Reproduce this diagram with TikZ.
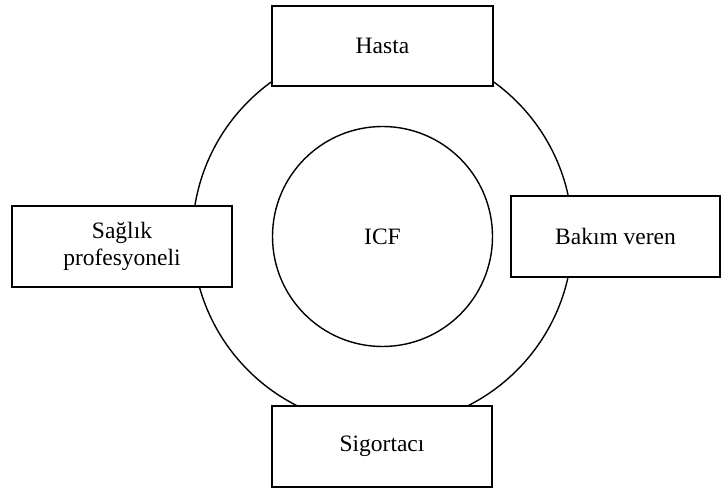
\documentclass[tikz,border=0pt]{standalone}
\usepackage{fontspec}
\setmainfont{Liberation Serif}
\begin{document}
\begin{tikzpicture}[x=1pt,y=-1pt,
  ring/.style={draw=black,line width=1.4pt},
  rolebox/.style={draw=black,fill=white,line width=1.4pt,rectangle,
    inner sep=0pt,align=center,font=\fontsize{23.5}{29}\selectfont},
  core/.style={circle,draw=black,line width=1.4pt,minimum size=220pt,
    inner sep=0pt,font=\fontsize{23.5}{29}\selectfont}]
  \useasboundingbox (0,0) rectangle (721,489);
  % outer ring of stakeholders
  \node[circle,ring,minimum size=380pt,inner sep=0pt] (outer) at (382.5,236) {};
  % ICF core
  \node[core] (icf) at (382.5,236.5) {ICF};
  % stakeholder boxes
  \node[rolebox,minimum width=221pt,minimum height=80pt] (hasta) at (382.5,46) {Hasta};
  \node[rolebox,minimum width=220pt,minimum height=81pt] (sigorta) at (382,446.5) {Sigortacı};
  \node[rolebox,minimum width=220pt,minimum height=81pt] (saglik) at (122,246.5) {\raisebox{-2pt}{Sağlık}\\profesyoneli};
  \node[rolebox,minimum width=209pt,minimum height=81pt] (bakim) at (615.5,236.5) {Bakım veren};
\end{tikzpicture}
\end{document}
